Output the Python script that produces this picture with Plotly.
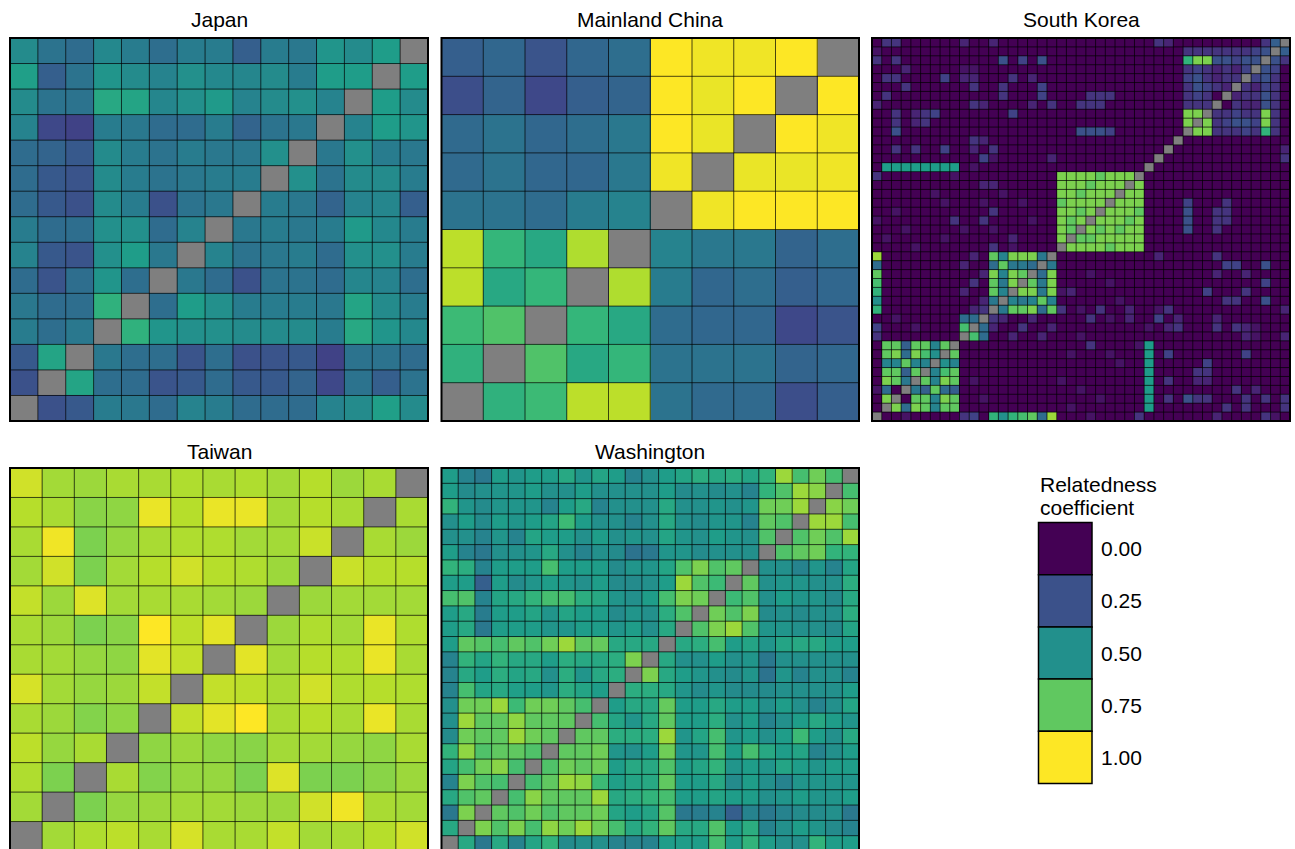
import numpy as np
import plotly.graph_objects as go
from plotly.colors import sample_colorscale

# ---------------------------------------------------------------------------
# Pairwise relatedness coefficients, stored as lower triangles:
# entry k of a list holds the values of individual k+1 against individuals 0..k.
# The diagonal (self comparison) is left empty.
# ---------------------------------------------------------------------------
JAPAN = [
    [0.25],
    [0.28, 0.58],
    [0.42, 0.36, 0.40],
    [0.40, 0.35, 0.36, 0.64],
    [0.35, 0.26, 0.36, 0.52, 0.36],
    [0.45, 0.28, 0.26, 0.50, 0.55, 0.40],
    [0.42, 0.35, 0.36, 0.50, 0.50, 0.35, 0.45],
    [0.35, 0.28, 0.25, 0.48, 0.42, 0.25, 0.38, 0.40],
    [0.35, 0.28, 0.26, 0.48, 0.42, 0.38, 0.40, 0.42, 0.42],
    [0.35, 0.32, 0.28, 0.48, 0.42, 0.38, 0.42, 0.40, 0.40, 0.50],
    [0.45, 0.22, 0.20, 0.42, 0.40, 0.35, 0.35, 0.42, 0.32, 0.38, 0.40],
    [0.48, 0.38, 0.38, 0.60, 0.58, 0.46, 0.50, 0.54, 0.45, 0.48, 0.50, 0.45],
    [0.56, 0.30, 0.38, 0.52, 0.48, 0.45, 0.50, 0.47, 0.46, 0.48, 0.42, 0.55, 0.55],
    [0.48, 0.38, 0.35, 0.47, 0.42, 0.36, 0.42, 0.42, 0.30, 0.42, 0.40, 0.52, 0.48, 0.55],
]

MAINLAND_CHINA = [
    [0.64],
    [0.68, 0.72],
    [0.90, 0.60, 0.66],
    [0.90, 0.66, 0.60, 0.88],
    [0.38, 0.38, 0.35, 0.42, 0.45],
    [0.34, 0.38, 0.33, 0.33, 0.40, 0.98],
    [0.34, 0.38, 0.33, 0.36, 0.40, 1.00, 0.97],
    [0.24, 0.32, 0.22, 0.30, 0.32, 1.00, 0.97, 1.00],
    [0.30, 0.33, 0.26, 0.33, 0.36, 1.00, 0.98, 0.98, 1.00],
]

TAIWAN = [
    [0.86],
    [0.88, 0.80],
    [0.90, 0.84, 0.87],
    [0.87, 0.85, 0.81, 0.83],
    [0.94, 0.86, 0.84, 0.85, 0.91],
    [0.87, 0.86, 0.84, 0.83, 0.96, 0.91],
    [0.87, 0.85, 0.80, 0.82, 1.00, 0.90, 0.96],
    [0.91, 0.85, 0.95, 0.86, 0.87, 0.87, 0.86, 0.85],
    [0.86, 0.93, 0.80, 0.86, 0.89, 0.93, 0.89, 0.88, 0.85],
    [0.87, 0.98, 0.80, 0.84, 0.87, 0.88, 0.88, 0.86, 0.86, 0.92],
    [0.89, 0.87, 0.82, 0.83, 0.97, 0.89, 0.97, 0.97, 0.86, 0.89, 0.87],
    [0.93, 0.86, 0.85, 0.87, 0.87, 0.88, 0.87, 0.88, 0.86, 0.89, 0.85, 0.87],
]

WASHINGTON = [
    [0.60],
    [0.40, 0.80],
    [0.60, 0.72, 0.75],
    [0.45, 0.80, 0.72, 0.70],
    [0.58, 0.70, 0.78, 0.82, 0.70],
    [0.65, 0.83, 0.72, 0.75, 0.75, 0.72],
    [0.48, 0.78, 0.75, 0.75, 0.85, 0.78, 0.75],
    [0.50, 0.85, 0.75, 0.75, 0.83, 0.75, 0.75, 0.75],
    [0.50, 0.78, 0.78, 0.85, 0.68, 0.78, 0.78, 0.75, 0.70],
    [0.45, 0.70, 0.58, 0.60, 0.56, 0.55, 0.52, 0.62, 0.58, 0.55],
    [0.45, 0.60, 0.55, 0.62, 0.58, 0.60, 0.50, 0.62, 0.52, 0.60, 0.62],
    [0.45, 0.65, 0.58, 0.65, 0.60, 0.60, 0.55, 0.62, 0.60, 0.60, 0.62, 0.80],
    [0.55, 0.75, 0.73, 0.70, 0.75, 0.72, 0.78, 0.85, 0.75, 0.76, 0.60, 0.60, 0.60],
    [0.55, 0.60, 0.40, 0.55, 0.55, 0.55, 0.52, 0.52, 0.55, 0.55, 0.52, 0.55, 0.50, 0.60],
    [0.55, 0.60, 0.42, 0.55, 0.55, 0.58, 0.52, 0.58, 0.55, 0.55, 0.48, 0.52, 0.50, 0.62, 0.72],
    [0.70, 0.72, 0.45, 0.58, 0.60, 0.65, 0.70, 0.70, 0.62, 0.60, 0.52, 0.50, 0.55, 0.70, 0.80, 0.78],
    [0.55, 0.55, 0.30, 0.55, 0.48, 0.52, 0.55, 0.52, 0.50, 0.55, 0.48, 0.48, 0.50, 0.55, 0.85, 0.72, 0.68],
    [0.65, 0.62, 0.45, 0.55, 0.55, 0.55, 0.70, 0.55, 0.55, 0.55, 0.48, 0.52, 0.52, 0.58, 0.72, 0.80, 0.72, 0.75],
    [0.55, 0.45, 0.40, 0.50, 0.50, 0.52, 0.60, 0.50, 0.45, 0.50, 0.48, 0.38, 0.40, 0.52, 0.52, 0.48, 0.50, 0.50, 0.50],
    [0.50, 0.50, 0.45, 0.52, 0.45, 0.58, 0.55, 0.55, 0.50, 0.55, 0.50, 0.52, 0.50, 0.58, 0.52, 0.50, 0.55, 0.52, 0.50, 0.72],
    [0.50, 0.55, 0.48, 0.55, 0.52, 0.55, 0.58, 0.68, 0.55, 0.50, 0.50, 0.45, 0.50, 0.60, 0.50, 0.48, 0.52, 0.52, 0.45, 0.75, 0.72],
    [0.65, 0.52, 0.48, 0.52, 0.52, 0.52, 0.45, 0.55, 0.60, 0.45, 0.50, 0.50, 0.50, 0.60, 0.50, 0.50, 0.52, 0.50, 0.52, 0.78, 0.78, 0.85],
    [0.55, 0.48, 0.50, 0.52, 0.52, 0.55, 0.50, 0.50, 0.55, 0.50, 0.50, 0.50, 0.50, 0.55, 0.48, 0.50, 0.48, 0.50, 0.45, 0.65, 0.72, 0.85, 0.82],
    [0.55, 0.45, 0.40, 0.55, 0.52, 0.55, 0.55, 0.60, 0.52, 0.58, 0.55, 0.45, 0.50, 0.55, 0.58, 0.62, 0.60, 0.62, 0.58, 0.65, 0.85, 0.70, 0.78, 0.70],
]

# South Korea is large and mostly unrelated, so each row is written as a
# string: one base-36 character per pair, value = int(char, 36) / 20
# ("0" = 0.00, "a" = 0.50, "g" = 0.80, "k" = 1.00). Spaces are only for reading.
SOUTH_KOREA_CODED = [
    "0",
    "0g",
    "170",
    "0gf8",
    "0ff6f",
    "099f9 9",
    "0fg7g ea",
    "0ff6f f9f",
    "30000 0000",
    "40001 0000e",
    "00100 00007 7",
    "d0000 00000 23",
    "a0000 00000 028",
    "d0000 00002 00f9",
    "e0000 00000 30f8g",
    "f0000 00000 02g9g f",
    "70000 00002 007f8 87",
    "h0000 00000 20f9g gg8",
    "00001 00000 00301 0000",
    "01000 00100 00002 0000g",
    "00010 00001 00100 0000g f",
    "10000 00030 03000 0100g fg",
    "00100 00000 00300 0000g gfg",
    "00000 00100 01000 1000f gggg",
    "00000 01000 00010 0000g gfggg",
    "00000 00000 02200 0000g ggfgg g",
    "30000 00010 00000 0000g gggfg gg",
    "0bbbb bbbb0 10000 00000 00000 000",
    "00000 00000 04100 00020 00000 0000",
    "00303 00400 20300 00000 00000 00000",
    "00000 00000 32000 00000 00000 00000 0",
    "00500 00000 00000 00000 05554 00000 00",
    "00302 30000 00000 00000 00000 00000 00g",
    "00302 34000 00004 00000 00000 00000 00gg",
    "20000 00000 32000 02030 03330 00000 00333",
    "03000 00000 00030 00400 00333 00000 00343 0",
    "00030 00000 30030 00400 00000 00000 00354 32",
    "03300 00402 20003 02000 00000 00000 00453 233",
    "00020 00001 10000 00000 00000 00000 00343 2324",
    "30300 00000 00050 40500 00000 00000 00dgg 55455",
    "10000 00000 00000 00000 00000 00000 00333 33334 5",
    "03300 00002 00200 00000 00000 00003 20000 00000 36",
]

PANEL_TITLES = ["Japan", "Mainland China", "South Korea", "Taiwan", "Washington"]
LEGEND_TITLE = ["Relatedness", "coefficient"]
LEGEND_BREAKS = [0.00, 0.25, 0.50, 0.75, 1.00]
LEGEND_LABELS = ["0.00", "0.25", "0.50", "0.75", "1.00"]


def decode(rows):
    return [[int(ch, 36) / 20 for ch in r.replace(" ", "")] for r in rows]


def symmetric(lower):
    n = len(lower) + 1
    m = np.full((n, n), np.nan)
    for i, row in enumerate(lower, start=1):
        if len(row) != i:
            raise ValueError(f"row {i} holds {len(row)} values")
        for j, v in enumerate(row):
            m[i, j] = v
            m[j, i] = v
    return m


MATRICES = [
    symmetric(JAPAN),
    symmetric(MAINLAND_CHINA),
    symmetric(decode(SOUTH_KOREA_CODED)),
    symmetric(TAIWAN),
    symmetric(WASHINGTON),
]

# ---------------------------------------------------------------------------
# Page geometry (pixels): left, right, top, bottom of each tile panel.
# The lower row runs past the bottom edge of the page.
# ---------------------------------------------------------------------------
W, H = 1295, 849
FONT = "Liberation Sans, Arial, Helvetica, sans-serif"
FONT_SIZE = 21
PANELS = [
    (10.0, 428.0, 38.0, 421.0),
    (441.5, 859.0, 38.0, 421.0),
    (872.0, 1290.0, 38.0, 421.0),
    (10.0, 428.0, 468.0, 851.0),
    (441.5, 859.0, 468.0, 851.0),
]
TITLE_Y = [20, 20, 20, 451, 451]
NA_GREY = "#7f7f7f"


def px(x):
    return x / W


def py(y):
    return 1 - y / H


fig = go.Figure()
shapes, annotations = [], []

for k, (m, (l, r, t, b), title, ty) in enumerate(
        zip(MATRICES, PANELS, PANEL_TITLES, TITLE_Y), start=1):
    n = m.shape[0]
    idx = np.arange(n)
    xa, ya = ("x", "y") if k == 1 else (f"x{k}", f"y{k}")

    fig.add_trace(go.Heatmap(
        z=m, x=idx, y=idx, colorscale="Viridis", zmin=0, zmax=1,
        showscale=False, hoverongaps=False, xaxis=xa, yaxis=ya,
    ))

    # thin tile borders
    gx, gy = [], []
    for e in np.arange(n + 1) - 0.5:
        gx += [e, e, None]
        gy += [-0.5, n - 0.5, None]
        gx += [-0.5, n - 0.5, None]
        gy += [e, e, None]
    fig.add_trace(go.Scatter(
        x=gx, y=gy, mode="lines", hoverinfo="skip", showlegend=False,
        line=dict(color="rgba(0,0,0,0.7)", width=1), xaxis=xa, yaxis=ya,
    ))

    vis_b = min(b, H)
    y_low = (n - 0.5) - n * (vis_b - t) / (b - t)
    axis_common = dict(showticklabels=False, showgrid=False, zeroline=False,
                       ticks="", showline=False, fixedrange=True)
    fig.layout[f"xaxis{'' if k == 1 else k}"] = dict(
        domain=[px(l), px(r)], range=[-0.5, n - 0.5], anchor=ya, **axis_common)
    fig.layout[f"yaxis{'' if k == 1 else k}"] = dict(
        domain=[py(vis_b), py(t)], range=[y_low, n - 0.5], anchor=xa,
        **axis_common)

    shapes.append(dict(type="rect", xref="paper", yref="paper",
                       x0=px(l), x1=px(r), y0=py(b), y1=py(t),
                       line=dict(color="black", width=2),
                       fillcolor="rgba(0,0,0,0)", layer="above"))
    annotations.append(dict(text=title, xref="paper", yref="paper",
                            x=px((l + r) / 2), y=py(ty), xanchor="center",
                            yanchor="middle", showarrow=False,
                            font=dict(family=FONT, size=FONT_SIZE, color="black")))

# ---------------------------------------------------------------------------
# Legend: one swatch per break, coloured from the same scale as the tiles.
# ---------------------------------------------------------------------------
LEG_L, LEG_R, LEG_TOP, LEG_STEP = 1038.5, 1092.0, 522.5, 52.2
swatches = sample_colorscale("Viridis", LEGEND_BREAKS)
for i, (col, lab) in enumerate(zip(swatches, LEGEND_LABELS)):
    y0 = LEG_TOP + i * LEG_STEP
    shapes.append(dict(type="rect", xref="paper", yref="paper",
                       x0=px(LEG_L), x1=px(LEG_R), y0=py(y0 + LEG_STEP), y1=py(y0),
                       line=dict(color="black", width=1.5), fillcolor=col))
    annotations.append(dict(text=lab, xref="paper", yref="paper",
                            x=px(1099), y=py(y0 + LEG_STEP / 2),
                            xanchor="left", yanchor="middle", showarrow=False,
                            font=dict(family=FONT, size=FONT_SIZE, color="black")))
for line, yc in zip(LEGEND_TITLE, [485, 507]):
    annotations.append(dict(text=line, xref="paper", yref="paper",
                            x=px(1038), y=py(yc), xanchor="left",
                            yanchor="middle", showarrow=False,
                            font=dict(family=FONT, size=FONT_SIZE, color="black")))

fig.update_layout(
    width=W, height=H, margin=dict(l=0, r=0, t=0, b=0),
    paper_bgcolor="white", plot_bgcolor=NA_GREY,
    showlegend=False, shapes=shapes, annotations=annotations,
)

fig.write_html("out.html")
